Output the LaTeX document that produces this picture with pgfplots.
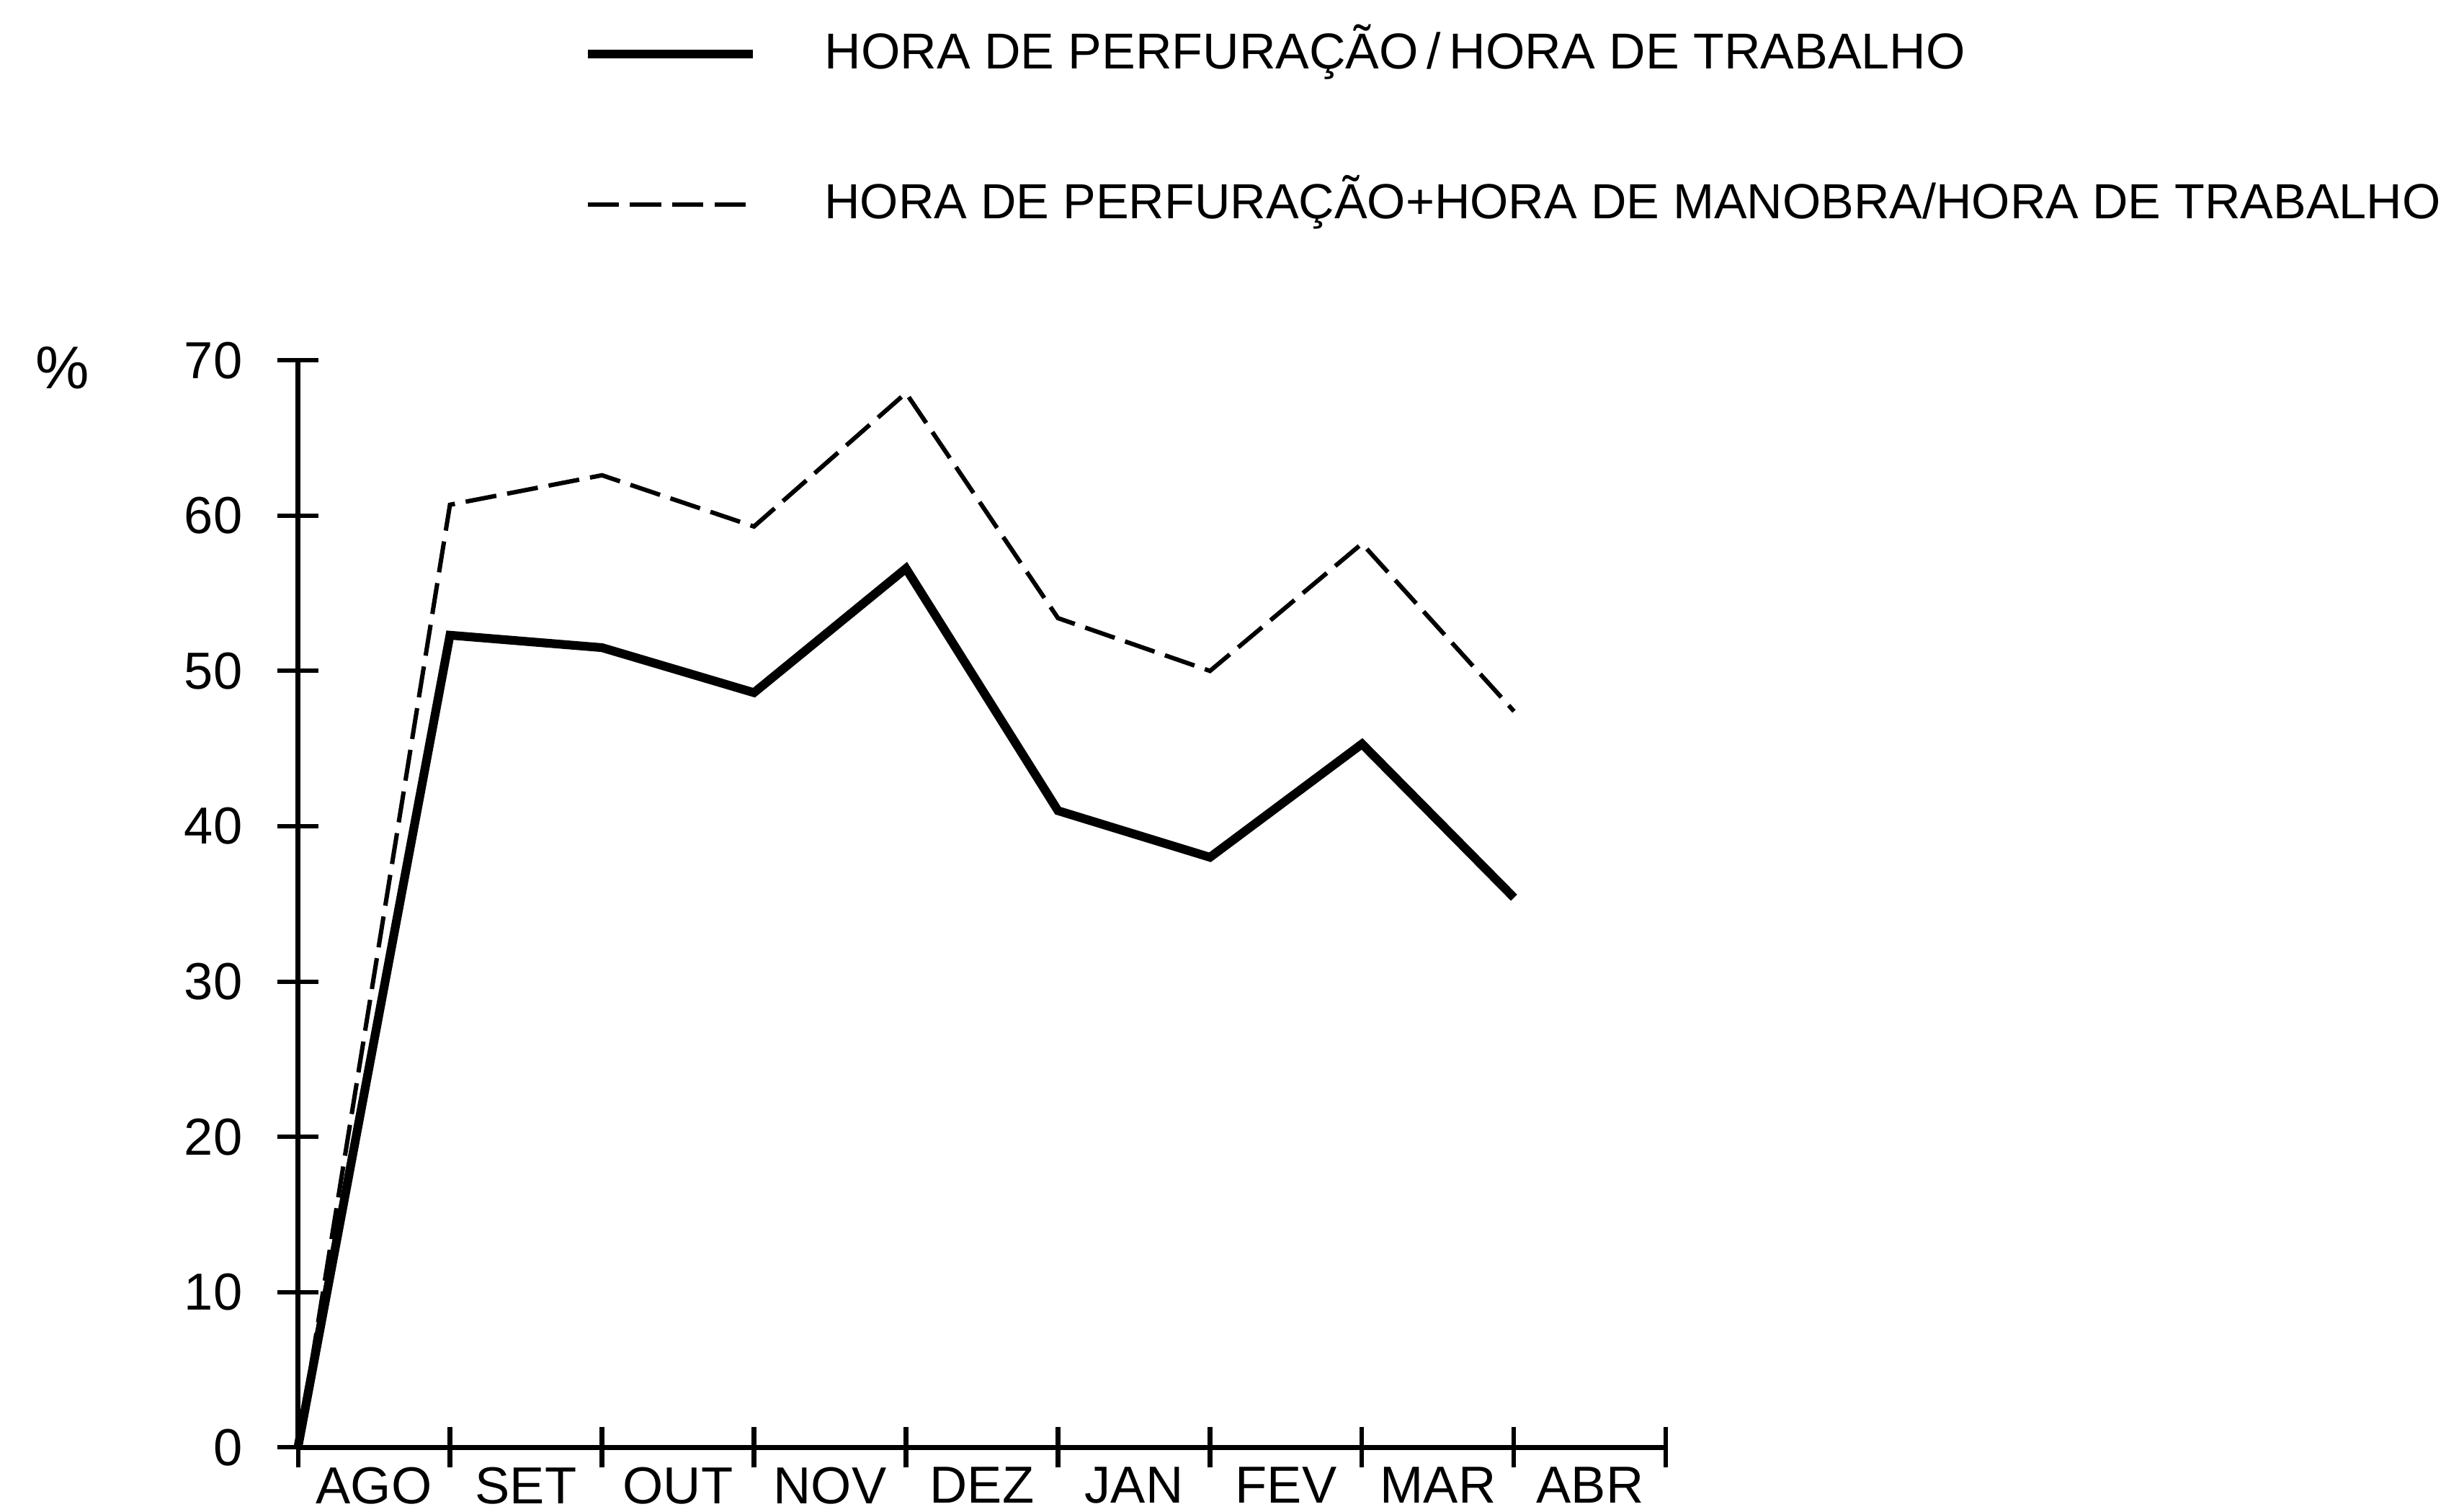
\documentclass[border=0pt]{standalone}
\usepackage{fontspec}
\setmainfont{Liberation Sans}
\usepackage{pgfplots}
\pgfplotsset{compat=1.18}
\begin{document}
\begin{tikzpicture}
\path[use as bounding box] (-1.91cm,-0.41cm) rectangle (13.77cm,9.28cm);
\begin{axis}[
  at={(0,0)}, anchor=south west,
  scale only axis, width=8.77cm, height=6.97cm,
  xmin=0, xmax=9, ymin=0, ymax=70,
  axis x line*=bottom, axis y line*=left,
  axis line style={-, line width=0.9pt},
  xtick={0,1,...,9}, xticklabels={},
  extra x ticks={0.5,1.5,2.5,3.5,4.5,5.5,6.5,7.5,8.5},
  extra x tick labels={AGO,SET,OUT,NOV,DEZ,JAN,FEV,MAR,ABR},
  extra x tick style={major tick length=0pt, xticklabel style={anchor=north, inner sep=0pt, yshift=-0.12cm}},
  ytick={0,10,...,70},
  tick align=center, major tick length=0.26cm,
  tick style={line width=0.8pt, black},
  ticklabel style={font=\fontsize{9.5}{11}\selectfont},
  /pgf/number format/assume math mode=true,
  yticklabel style={anchor=east, inner sep=0pt, xshift=-0.22cm},
  clip=false,
  legend cell align=left,
  legend style={draw=none, fill=none, inner sep=0pt, outer sep=0pt,
    at={(axis description cs:0.2086,1.319)}, anchor=north west,
    row sep=0.49cm, column sep=0pt,
    font=\fontsize{9.2}{11}\selectfont},
  legend image code/.code={\draw[#1] (0cm,-0.02cm) -- (1.06cm,-0.02cm); \path (1.42cm,-0.02cm);},
]
\addplot[black, line width=1.6pt, line join=miter] coordinates {
(0,0) (1,52.3) (2,51.5) (3,48.6) (4,56.6) (5,41.0) (6,38.0) (7,45.3) (8,35.4)};
\addlegendentry{HORA DE PERFURAÇÃO\,/\,HORA DE TRABALHO}
\addplot[black, line width=0.8pt, dash pattern=on 5.7pt off 2pt] coordinates {
(0,0) (1,60.7) (2,62.6) (3,59.3) (4,67.9) (5,53.4) (6,50.0) (7,58.2) (8,47.4)};
\addlegendentry{\fontsize{9.0}{11}\selectfont HORA DE PERFURAÇÃO+HORA DE MANOBRA/HORA DE TRABALHO}
\node[font=\fontsize{11}{13}\selectfont] at (axis description cs:-0.172,0.993) {\%};
\end{axis}
\end{tikzpicture}
\end{document}
